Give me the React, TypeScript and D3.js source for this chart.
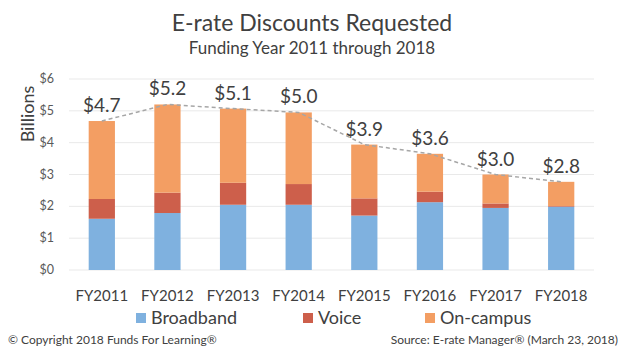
import React from 'react';
import * as d3 from 'd3';

const years = ['FY2011', 'FY2012', 'FY2013', 'FY2014', 'FY2015', 'FY2016', 'FY2017', 'FY2018'];
const broadband = [1.61, 1.79, 2.05, 2.05, 1.71, 2.13, 1.95, 1.99];
const voice = [0.62, 0.64, 0.69, 0.65, 0.54, 0.33, 0.14, 0.02];
const onCampus = [2.45, 2.77, 2.33, 2.25, 1.69, 1.19, 0.91, 0.76];
const totalLabels = ['$4.7', '$5.2', '$5.1', '$5.0', '$3.9', '$3.6', '$3.0', '$2.8'];
const yTicks = [0, 1, 2, 3, 4, 5, 6];
const seriesNames = ['Broadband', 'Voice', 'On-campus'];

const colors = ['#7fb1df', '#cd5f4b', '#f39e63'];
const font = 'Lato, "Open Sans", sans-serif';

const W = 624;
const H = 360;

const App: React.FC = () => {
	const x = d3.scaleBand<string>().domain(years).range([69, 594]).paddingInner(0.6).paddingOuter(0.3);
	const y = d3.scaleLinear().domain([0, 6]).range([270, 79]);

	const rows = years.map((yr, i) => ({
		year: yr,
		Broadband: broadband[i],
		Voice: voice[i],
		'On-campus': onCampus[i],
	}));
	const stacked = d3.stack<any>().keys(seriesNames)(rows);
	const totals = years.map((_, i) => broadband[i] + voice[i] + onCampus[i]);

	const cx = (yr: string) => (x(yr) as number) + x.bandwidth() / 2;
	const line = d3
		.line<number>()
		.x((_, i) => cx(years[i]))
		.y((d) => y(d));

	const legendX = [136, 303, 425];

	return (
		<svg width={W} height={H} style={{ position: 'absolute', left: 0, top: 0, background: '#fff' }}>
			<text x={312} y={31} textAnchor="middle" fontFamily={font} fontSize={23} fill="#404040">
				E-rate Discounts Requested
			</text>
			<text x={312} y={54} textAnchor="middle" fontFamily={font} fontSize={17} fill="#404040">
				Funding Year 2011 through 2018
			</text>

			{yTicks.map((t) => (
				<g key={t}>
					<line x1={69} x2={594} y1={y(t)} y2={y(t)} stroke="#e9e9e9" strokeWidth={1} />
					<text x={54} y={y(t) + 4} textAnchor="end" fontFamily={font} fontSize={12.5} fill="#595959">
						${t}
					</text>
				</g>
			))}

			<text
				transform={`translate(34, ${y(4.9)}) rotate(-90)`}
				textAnchor="middle"
				fontFamily={font}
				fontSize={18}
				fill="#404040"
			>
				Billions
			</text>

			{stacked.map((s, si) => (
				<g key={s.key} fill={colors[si]}>
					{s.map((d, i) => (
						<rect
							key={years[i]}
							x={x(years[i])}
							y={y(d[1])}
							width={x.bandwidth()}
							height={Math.max(0, y(d[0]) - y(d[1]))}
						/>
					))}
				</g>
			))}

			<path d={line(totals) as string} fill="none" stroke="#a6a6a6" strokeWidth={1.5} strokeDasharray="4,3" />

			{totals.map((t, i) => (
				<text
					key={years[i]}
					x={cx(years[i])}
					y={y(t) - 9}
					textAnchor="middle"
					fontFamily={font}
					fontSize={19}
					fill="#404040"
				>
					{totalLabels[i]}
				</text>
			))}

			{years.map((yr) => (
				<text key={yr} x={cx(yr)} y={301} textAnchor="middle" fontFamily={font} fontSize={15} fill="#404040">
					{yr}
				</text>
			))}

			{seriesNames.map((n, i) => (
				<g key={n}>
					<rect x={legendX[i]} y={313} width={10} height={10} fill={colors[i]} />
					<text x={legendX[i] + 15} y={324} fontFamily={font} fontSize={18} fill="#404040">
						{n}
					</text>
				</g>
			))}

			<text x={8} y={344} fontFamily={font} fontSize={12} fill="#404040">
				© Copyright 2018 Funds For Learning®
			</text>
			<text x={618} y={344} textAnchor="end" fontFamily={font} fontSize={12} fill="#404040">
				Source: E-rate Manager® (March 23, 2018)
			</text>
		</svg>
	);
};

export default App;
